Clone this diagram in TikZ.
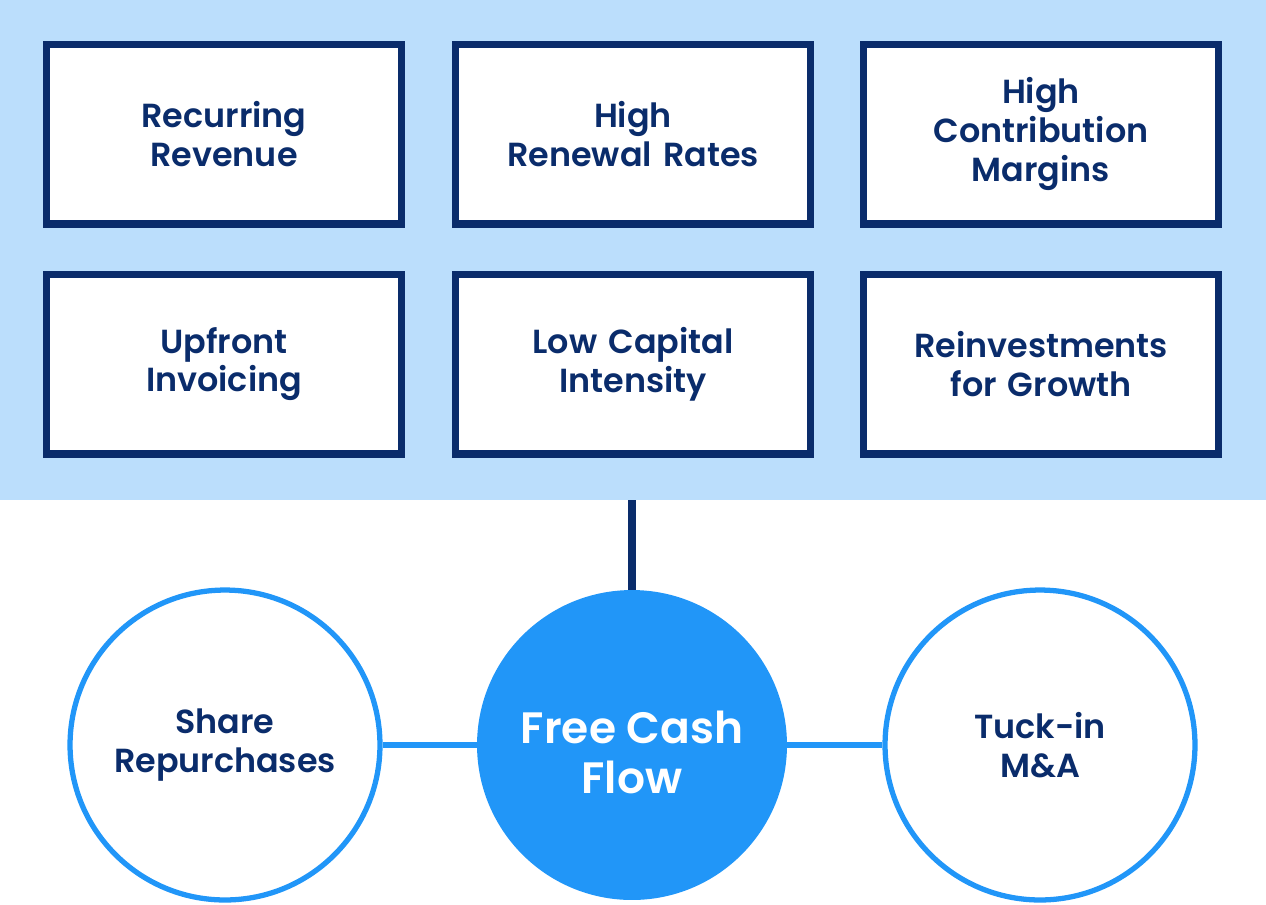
\documentclass[tikz,border=0pt]{standalone}
\usepackage{fontspec}
\setmainfont{Poppins}[BoldFont={Poppins SemiBold}]
\usetikzlibrary{positioning}

\definecolor{navy}{HTML}{0A2C6B}
\definecolor{paleblue}{HTML}{BBDEFC}
\definecolor{brightblue}{HTML}{2196F8}

\begin{document}
\begin{tikzpicture}[x=0.02cm, y=-0.02cm]

% Stile
\tikzset{factorbox/.style={draw=navy, line width=4pt, fill=white, minimum width=7.1cm, minimum height=3.6cm, text width=6.8cm, align=center, font=\bfseries\fontsize{19}{22}\selectfont, text=navy}}
\tikzset{usecircle/.style={draw=brightblue, line width=3pt, fill=white, circle, minimum size=6.2cm, align=center, font=\bfseries\fontsize{19}{22}\selectfont, text=navy}}
\tikzset{linkline/.style={draw=brightblue, line width=3pt}}

\useasboundingbox (0,0) rectangle (1266,904);

% 1. Hellblauer Hintergrund
\fill[paleblue] (0,0) rectangle (1266,500);

% 2. Obere Reihe
\node[factorbox] (recurring) at (224,134) {Recurring\\Revenue};
\node[factorbox] (renewal) at (633,134) {High\\Renewal Rates};
\node[factorbox] (margins) at (1041,134) {High\\Contribution\\Margins};

% 3. Untere Reihe
\node[factorbox] (upfront) at (224,364) {Upfront\\Invoicing};
\node[factorbox] (capital) at (633,364) {Low Capital\\Intensity};
\node[factorbox] (reinvest) at (1041,364) {Reinvestments\\for Growth};

% 4. Kreise
\node[circle, fill=brightblue, minimum size=6.2cm, text=white, font=\bfseries\fontsize{25}{28}\selectfont] (fcf) at (632,745) {\raisebox{-14pt}[0pt][0pt]{\begin{tabular}{@{}c@{}}Free Cash\\Flow\end{tabular}}};
\node[usecircle] (share) at (225,745) {Share\\Repurchases};
\node[usecircle] (tuckin) at (1040,745) {Tuck-in\\M\&A};

% 5. Verbindungen
\coordinate (top) at (632,500);
\draw[navy, line width=4pt] (top) -- (fcf.north);
\draw[linkline] (share) -- (fcf);
\draw[linkline] (fcf) -- (tuckin);

\end{tikzpicture}
\end{document}
